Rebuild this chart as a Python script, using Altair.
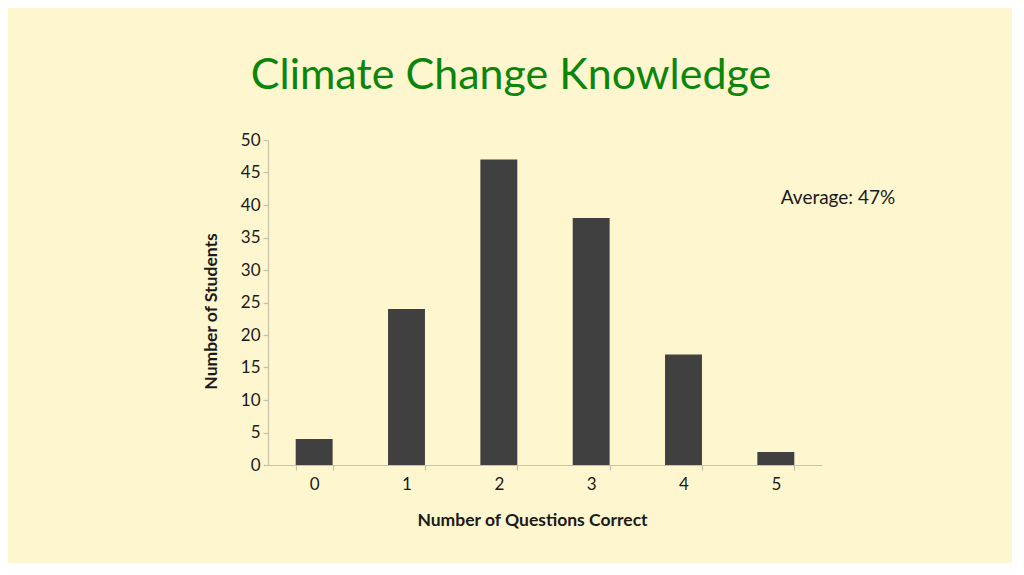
import altair as alt
import pandas as pd

categories = ["0", "1", "2", "3", "4", "5"]
students = [4, 24, 47, 38, 17, 2]
y_ticks = [0, 5, 10, 15, 20, 25, 30, 35, 40, 45, 50]
title_text = "Climate Change Knowledge"
note_text = "Average: 47%"

df = pd.DataFrame({"q": categories, "n": students})

FONT = "Lato"
AXIS_COLOR = "#c9c2a6"

bars = alt.Chart(df).mark_bar(color="#404040").encode(
    x=alt.X("q:N", sort=categories,
            scale=alt.Scale(paddingInner=0.6, paddingOuter=0.3),
            axis=alt.Axis(title="Number of Questions Correct", labelAngle=0,
                          tickBand="extent", tickSize=5, labelPadding=6,
                          titlePadding=19, titleX=264)),
    y=alt.Y("n:Q", scale=alt.Scale(domain=[0, 50], nice=False),
            axis=alt.Axis(title="Number of Students", values=y_ticks,
                          tickSize=5, labelPadding=3, titlePadding=20,
                          grid=False, titleY=171)),
)

note = alt.Chart(pd.DataFrame({"t": [note_text]})).mark_text(
    font=FONT, fontSize=19, color="#1a1a1a", align="center", baseline="middle"
).encode(text="t:N", x=alt.value(570), y=alt.value(58))

chart = alt.layer(bars, note).properties(
    width=554, height=325,
    autosize=alt.AutoSizeParams(type="none"),
    padding={"left": 260, "top": 132, "right": 190, "bottom": 98},
    background="#fef6ce",
    title=alt.TitleParams(title_text, font=FONT, fontSize=43, fontWeight="normal",
                          color="#0b860b", anchor="middle", dx=-34, offset=33),
).configure_view(stroke=None).configure_axis(
    labelFont=FONT, titleFont=FONT, labelFontSize=17, titleFontSize=17.5,
    titleFontWeight="bold", labelColor="#1a1a1a", titleColor="#1a1a1a",
    domainColor=AXIS_COLOR, tickColor=AXIS_COLOR, domainWidth=1.2, tickWidth=1.2,
)

chart.save("out.html", embed_options={"renderer": "svg", "actions": False})
